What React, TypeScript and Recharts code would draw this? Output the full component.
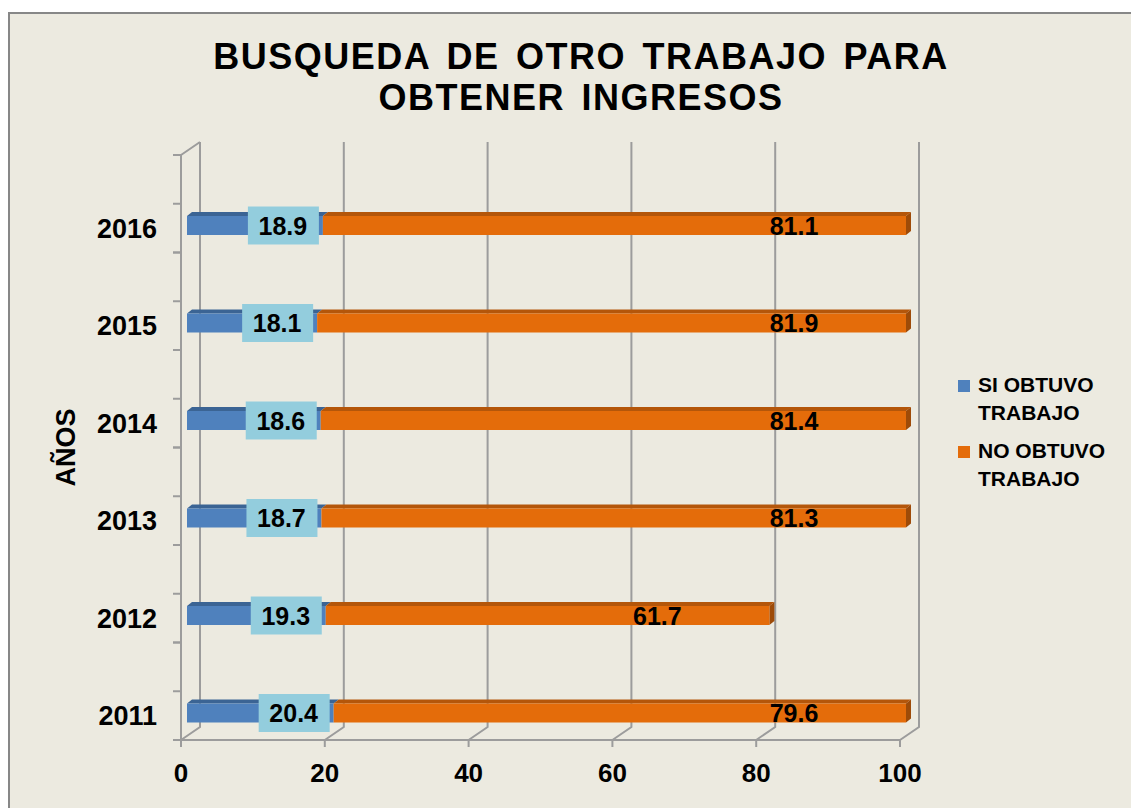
import { BarChart, Bar, XAxis, YAxis, CartesianGrid, Legend, LabelList, Label } from 'recharts'

const years = ['2011', '2012', '2013', '2014', '2015', '2016']
const siObtuvo = [20.4, 19.3, 18.7, 18.6, 18.1, 18.9]
const noObtuvo = [79.6, 61.7, 81.3, 81.4, 81.9, 81.1]
const xTicks = [0, 20, 40, 60, 80, 100]
const seriesNames = ['SI OBTUVO TRABAJO', 'NO OBTUVO TRABAJO']

const data = years.map((year, i) => ({ year, si: siObtuvo[i], no: noObtuvo[i] }))

const FONT = '"Liberation Sans", Arial, sans-serif'
const GRID = '#9c9c9c'
const BG = '#ECEAE0'

// chart geometry (chart-local px)
const W = 1129
const H = 794
const Y_AXIS_W = 171
const TOP = 141
const X_AXIS_H = 68
const PLOT_BOTTOM = H - X_AXIS_H
const BAND = (PLOT_BOTTOM - TOP) / years.length

// fake 3d
const DEPTH_X = 19
const DEPTH_Y = 13
const BAR_DX = 6
const BAR_DY = 22
const TOP_X = 5
const TOP_Y = 4

function gridLine(props: any) {
  const { x1, y1, y2, index } = props
  const bx = x1 + DEPTH_X
  let d = `M${x1},${y2} L${bx},${y2 - DEPTH_Y} L${bx},${y1 - DEPTH_Y}`
  if (index === 0) d += ` M${x1},${y1} L${bx},${y1 - DEPTH_Y}`
  return <path key={`g-${index}`} d={d} stroke={GRID} strokeWidth={2} fill="none" />
}

function makeShape(front: string, top: string, side?: string) {
  return (props: any) => {
    const { x, y, width, height } = props
    if (!width || width <= 0) return <g />
    const fx = x + BAR_DX
    const fy = y + BAR_DY
    return (
      <g>
        <polygon
          points={`${fx},${fy} ${fx + TOP_X},${fy - TOP_Y} ${fx + width + TOP_X},${fy - TOP_Y} ${fx + width},${fy}`}
          fill={top}
        />
        {side && (
          <polygon
            points={`${fx + width},${fy} ${fx + width + TOP_X},${fy - TOP_Y} ${fx + width + TOP_X},${fy + height - TOP_Y} ${fx + width},${fy + height}`}
            fill={side}
          />
        )}
        <rect x={fx} y={fy} width={width} height={height} fill={front} />
      </g>
    )
  }
}

const siShape = makeShape('#4F81BD', '#3B6494')
const noShape = makeShape('#E46C0A', '#B4560A', '#9E4B08')

function siLabel(props: any) {
  const { x, y, width, height, value } = props
  const cx = x + width + BAR_DX - 40
  const cy = y + BAR_DY + height / 2
  return (
    <g>
      <rect x={cx - 35} y={cy - 19} width={71} height={38} fill="#93CDDD" />
      <text x={cx} y={cy} dy="0.36em" textAnchor="middle" fontSize={25} fontWeight="bold" fontFamily={FONT} fill="#000">
        {value}
      </text>
    </g>
  )
}

function noLabel(props: any) {
  const { x, y, width, height, value } = props
  const cx = x + width + BAR_DX - 112
  const cy = y + BAR_DY + height / 2
  return (
    <text x={cx} y={cy} dy="0.36em" textAnchor="middle" fontSize={25} fontWeight="bold" fontFamily={FONT} fill="#000">
      {value}
    </text>
  )
}

function YearTick(props: any) {
  const { y, payload } = props
  return (
    <g>
      {[-BAND / 2, 0, BAND / 2].map((d) => (
        <line key={d} x1={Y_AXIS_W - 8} x2={Y_AXIS_W} y1={y + d} y2={y + d} stroke={GRID} strokeWidth={2} />
      ))}
      <text x={Y_AXIS_W - 24} y={y + 34} textAnchor="end" fontSize={27} fontWeight="bold" fontFamily={FONT} fill="#000">
        {payload.value}
      </text>
    </g>
  )
}

function XTick(props: any) {
  const { x, payload } = props
  return (
    <text x={x} y={PLOT_BOTTOM + 42} textAnchor="middle" fontSize={26} fontWeight="bold" fontFamily={FONT} fill="#000">
      {payload.value}
    </text>
  )
}

function LegendBox(props: any) {
  const items = [...(props.payload ?? [])].sort(
    (a: any, b: any) => seriesNames.indexOf(a.value) - seriesNames.indexOf(b.value)
  )
  return (
    <div style={{ fontFamily: FONT }}>
      {items.map((item: any) => (
        <div key={item.value} style={{ display: 'flex', alignItems: 'flex-start', marginBottom: 10 }}>
          <div style={{ width: 12, height: 12, background: item.color, marginTop: 9, marginRight: 8, flexShrink: 0 }} />
          <div style={{ fontSize: 21, fontWeight: 'bold', lineHeight: '28px', color: '#000' }}>
            {String(item.value).split(' ').slice(0, 2).join(' ')}
            <br />
            {String(item.value).split(' ').slice(2).join(' ')}
          </div>
        </div>
      ))}
    </div>
  )
}

export default function App() {
  return (
    <div
      style={{
        marginTop: 4,
        width: 1131,
        height: 796,
        borderTop: '2px solid #878787',
        borderLeft: '2px solid #878787',
        background: BG,
        position: 'relative',
        boxSizing: 'border-box',
        fontFamily: FONT,
      }}
    >
      <div
        style={{
          position: 'absolute',
          left: 0,
          top: 22,
          width: 1142,
          textAlign: 'center',
          fontSize: 36,
          lineHeight: '41px',
          fontWeight: 'bold',
          letterSpacing: 1.5,
          wordSpacing: 5,
          color: '#000',
          zIndex: 2,
        }}
      >
        BUSQUEDA DE OTRO TRABAJO PARA
        <br />
        OBTENER INGRESOS
      </div>
      <BarChart
        width={W}
        height={H}
        data={data}
        layout="vertical"
        barSize={19}
        margin={{ top: TOP, right: W - 890, bottom: 0, left: 0 }}
      >
        <CartesianGrid horizontal={false} vertical={gridLine} />
        <XAxis
          type="number"
          domain={[0, 100]}
          ticks={xTicks}
          height={X_AXIS_H}
          axisLine={{ stroke: GRID, strokeWidth: 2 }}
          tickLine={{ stroke: GRID, strokeWidth: 2 }}
          tickSize={7}
          tick={<XTick />}
        />
        <YAxis
          type="category"
          dataKey="year"
          reversed
          width={Y_AXIS_W}
          axisLine={{ stroke: GRID, strokeWidth: 2 }}
          tickLine={false}
          tick={<YearTick />}
        >
          <Label
            content={(p: any) => {
              const vb = p.viewBox
              const cx = 55
              const cy = vb.y + vb.height / 2
              return (
                <text
                  x={cx}
                  y={cy}
                  transform={`rotate(-90 ${cx} ${cy})`}
                  textAnchor="middle"
                  dy="0.36em"
                  fontSize={27}
                  fontWeight="bold"
                  fontFamily={FONT}
                  fill="#000"
                >
                  AÑOS
                </text>
              )
            }}
          />
        </YAxis>
        <Legend
          layout="vertical"
          align="center"
          verticalAlign="middle"
          wrapperStyle={{ position: 'absolute', left: 948, top: 357, width: 180 }}
          content={<LegendBox />}
        />
        <Bar dataKey="si" name={seriesNames[0]} stackId="a" fill="#4F81BD" shape={siShape} isAnimationActive={false}>
          <LabelList dataKey="si" content={siLabel} />
        </Bar>
        <Bar dataKey="no" name={seriesNames[1]} stackId="a" fill="#E46C0A" shape={noShape} isAnimationActive={false}>
          <LabelList dataKey="no" content={noLabel} />
        </Bar>
      </BarChart>
    </div>
  )
}
